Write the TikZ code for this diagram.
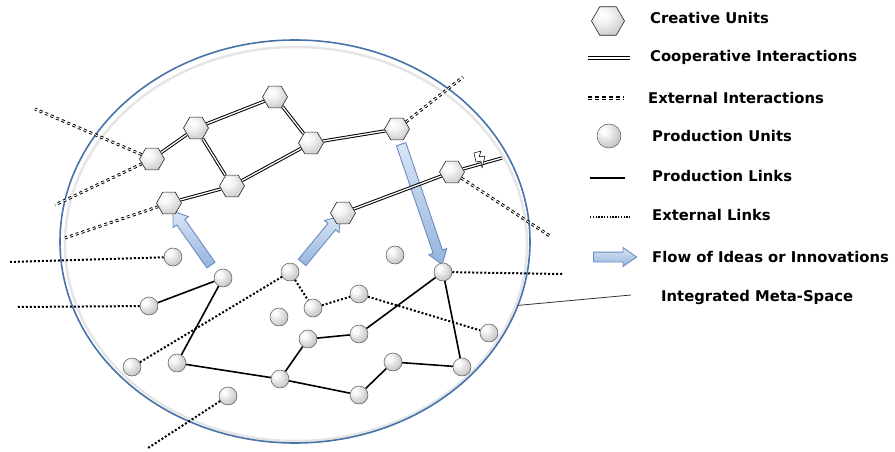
\documentclass[tikz,border=0pt]{standalone}
\usepackage{fontspec}
\newfontfamily\lgfont{DejaVu Sans}
\usetikzlibrary{shapes.geometric,shapes.arrows}
\pgfdeclarelayer{back}
\pgfdeclarelayer{arr}
\pgfdeclarelayer{edges}
\pgfsetlayers{back,arr,edges,main}
\definecolor{metablue}{RGB}{70,115,170}
\definecolor{flowfill}{RGB}{200,218,240}
\definecolor{flowdark}{RGB}{150,180,222}
\definecolor{flowdraw}{RGB}{105,140,195}
\pgfdeclareradialshading{sphereshade}{\pgfpoint{-12bp}{12bp}}{%
  color(0bp)=(white); color(8bp)=(white!95!gray); color(28bp)=(gray!40);
  color(44bp)=(gray!68); color(52bp)=(gray!85); color(70bp)=(gray!85)}
\pgfdeclareradialshading{hexshade}{\pgfpoint{-10bp}{12bp}}{%
  color(0bp)=(white); color(12bp)=(white!92!gray); color(34bp)=(gray!42);
  color(50bp)=(gray!68); color(60bp)=(gray!80); color(75bp)=(gray!80)}
\tikzset{
  hexu/.style={regular polygon, regular polygon sides=6, minimum size=25pt, inner sep=0pt,
    draw=black!85, line width=0.6pt, shading=hexshade},
  ballu/.style={circle, minimum size=18pt, inner sep=0pt, shading=sphereshade,
    draw=black!65, line width=0.5pt},
  coop/.style={line width=1pt, double=white, double distance=1.3pt},
  extint/.style={line width=1pt, double=white, double distance=0.9pt, dash pattern=on 3pt off 3pt},
  prod/.style={line width=1.6pt},
  extl/.style={line width=2pt, dash pattern=on 2pt off 2pt},
  flow/.style={single arrow, draw=flowdraw, line width=0.9pt, top color=white!30!flowfill,
    bottom color=flowdark, inner xsep=0pt, inner ysep=4.5pt, single arrow head extend=4.5pt,
    single arrow tip angle=70, single arrow head indent=0pt},
  lgtext/.style={anchor=west, inner sep=0pt, font=\lgfont\bfseries\fontsize{14.8}{17}\selectfont}
}
\begin{document}
\begin{tikzpicture}[x=1pt,y=-1pt]
\useasboundingbox (0,0) rectangle (895,452);

% meta space
\begin{pgfonlayer}{back}
\node[ellipse, draw=gray!20, line width=2.5pt, minimum width=462pt, minimum height=394pt,
  inner sep=0pt, outer sep=0pt] (metain) at (296,244) {};
\node[ellipse, draw=metablue, line width=1.6pt, minimum width=470pt, minimum height=403pt,
  inner sep=0pt, outer sep=0pt] (meta) at (295,241.5) {};
\end{pgfonlayer}

% creative units
\node[hexu] (h1) at (152,159) {};
\node[hexu] (h2) at (196,128) {};
\node[hexu] (h3) at (275,97) {};
\node[hexu] (h4) at (311,143) {};
\node[hexu] (h5) at (232,186) {};
\node[hexu] (h6) at (169,203) {};
\node[hexu] (h7) at (397,129) {};
\node[hexu] (h8) at (452,172) {};
\node[hexu] (h9) at (343,213) {};

% production units
\node[ballu] (p1) at (173,257) {};
\node[ballu] (p2) at (223,278) {};
\node[ballu] (p3) at (149,306) {};
\node[ballu] (p4) at (132,367) {};
\node[ballu] (p5) at (177,363) {};
\node[ballu] (p6) at (228,396) {};
\node[ballu] (p7) at (279,317) {};
\node[ballu] (p8) at (280,379) {};
\node[ballu] (p9) at (290,272) {};
\node[ballu] (p10) at (395,255) {};
\node[ballu] (p11) at (443,272) {};
\node[ballu] (p12) at (313,308) {};
\node[ballu] (p13) at (359,294) {};
\node[ballu] (p14) at (308,339) {};
\node[ballu] (p15) at (359,334) {};
\node[ballu] (p16) at (489,333) {};
\node[ballu] (p17) at (393,362) {};
\node[ballu] (p18) at (462,367) {};
\node[ballu] (p19) at (359,395) {};

% free ends
\coordinate (x1) at (35,109);
\coordinate (x2) at (55,205);
\coordinate (x3) at (65,238);
\coordinate (x4) at (463,77);
\coordinate (x5) at (550,236);
\coordinate (x6) at (502,158);
\coordinate (y1) at (10,262);
\coordinate (y2) at (17,307);
\coordinate (y3) at (148,448);
\coordinate (y4) at (563,274);
\coordinate (a1s) at (213,268);
\coordinate (a1e) at (175,214);
\coordinate (a2s) at (300,265);
\coordinate (a2e) at (338,219);
\coordinate (a3s) at (400,141);
\coordinate (a3e) at (441,261);

\begin{pgfonlayer}{arr}
\path (a1s) -- (a1e) node[flow, midway, sloped, allow upside down, minimum height=66pt] (f1) {};
\path (a2s) -- (a2e) node[flow, midway, sloped, allow upside down, minimum height=60pt] (f2) {};
\path (a3s) -- (a3e) node[flow, midway, sloped, allow upside down, minimum height=127pt] (f3) {};
\end{pgfonlayer}

\begin{pgfonlayer}{edges}
% cooperative interactions
\draw[coop] (h1) -- (h2);
\draw[coop] (h2) -- (h3);
\draw[coop] (h2) -- (h5);
\draw[coop] (h3) -- (h4);
\draw[coop] (h5) -- (h4);
\draw[coop] (h4) -- (h7);
\draw[coop] (h6) -- (h5);
\draw[coop] (h9) -- (h8);
\draw[coop] (h8) -- (x6);
% external interactions
\draw[extint] (h1) -- (x1);
\draw[extint] (h1) -- (x2);
\draw[extint] (h6) -- (x3);
\draw[extint] (h7) -- (x4);
\draw[extint] (h8) -- (x5);
% production links
\draw[prod, line join=round] (p3) -- (p2) -- (p5) -- (p8) -- (p14) -- (p15) -- (p11) -- (p18) -- (p17) -- (p19) -- (p8);
% external links
\draw[extl] (p1) -- (y1);
\draw[extl] (p3) -- (y2);
\draw[extl] (p6) -- (y3);
\draw[extl] (p11) -- (y4);
\draw[extl] (p4) -- (p9);
\draw[extl] (p9) -- (p12) -- (p13) -- (p16);
% small lightning mark
\draw[fill=white, line width=0.5pt, line join=round]
  (474,153) -- (481,151) -- (479,157) -- (485,156) -- (482,168) -- (481,161) -- (476,162) -- cycle;
% meta-space pointer
\coordinate (mt) at (631,295);
\draw[line width=0.8pt, black!80] (meta.-16) -- (mt);
% legend lines
\coordinate (l2a) at (588,58); \coordinate (l2b) at (630,58);
\draw[coop] (l2a) -- (l2b);
\coordinate (l3a) at (588,98); \coordinate (l3b) at (624,98);
\draw[extint, line width=1.2pt, double distance=0.8pt, dash pattern=on 4pt off 3pt] (l3a) -- (l3b);
\coordinate (l5a) at (590,178); \coordinate (l5b) at (625,178);
\draw[prod] (l5a) -- (l5b);
\coordinate (l6a) at (590,217); \coordinate (l6b) at (630,217);
\draw[extl, line width=1.4pt, dash pattern=on 1.4pt off 1.4pt] (l6a) -- (l6b);
\end{pgfonlayer}

% legend
\node[hexu, minimum size=33pt] (lh) at (608,21) {};
\node[lgtext] (t1) at (650,18) {Creative Units};
\node[lgtext] (t2) at (650,57) {Cooperative Interactions};
\node[lgtext] (t3) at (648,98) {External Interactions};
\node[ballu, minimum size=24pt] (lp) at (609,136) {};
\node[lgtext] (t4) at (652,136) {Production Units};
\node[lgtext] (t5) at (652,176) {Production Links};
\node[lgtext] (t6) at (652,215) {External Links};
\node[flow, minimum height=43pt] (la) at (611.5,257) {};
\node[lgtext] (t7) at (652,257) {Flow of Ideas or Innovations};
\node[lgtext] (t8) at (661,297) {Integrated Meta-Space};
\end{tikzpicture}
\end{document}
